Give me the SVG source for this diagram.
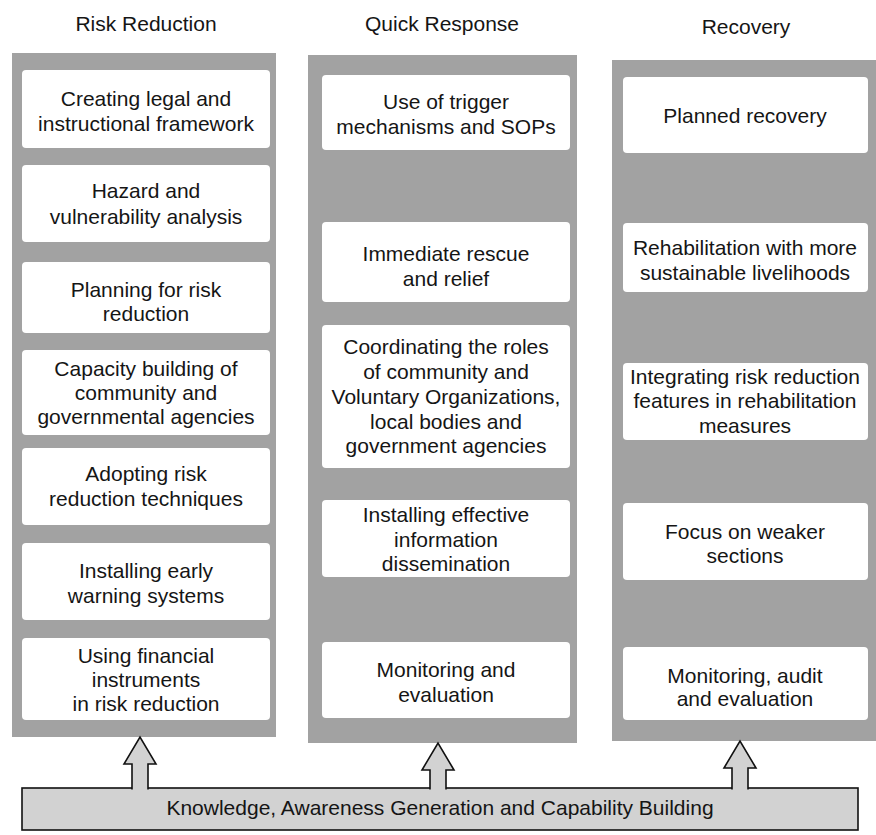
<svg xmlns="http://www.w3.org/2000/svg" width="876" height="835" viewBox="0 0 876 835">
<style>
text{font-family:"Liberation Sans",Arial,sans-serif;font-size:21px;fill:#151515;text-anchor:middle}
.col{fill:#a2a2a2}
.box{fill:#ffffff}
.bar{fill:#d2d2d2;stroke:#111;stroke-width:1.6}
.arr{fill:#d2d2d2;stroke:#111;stroke-width:1.6;stroke-linejoin:miter}
</style>
<rect width="876" height="835" fill="#ffffff"/>
<g id="headers">
<text x="146" y="31">Risk Reduction</text>
<text x="442" y="31">Quick Response</text>
<text x="746" y="34">Recovery</text>
</g>
<g id="column-risk-reduction">
<rect class="col" x="12" y="53" width="264" height="684"/>
</g>
<g id="column-quick-response">
<rect class="col" x="308" y="55" width="269" height="688"/>
</g>
<g id="column-recovery">
<rect class="col" x="612" y="60" width="264" height="681"/>
</g>
<g id="rr1"><rect class="box" x="22" y="70" width="248" height="78" rx="4"/><text x="146" y="106">Creating legal and</text><text x="146" y="131">instructional framework</text></g>
<g id="rr2"><rect class="box" x="22" y="165" width="248" height="77" rx="4"/><text x="146" y="198">Hazard and</text><text x="146" y="224">vulnerability analysis</text></g>
<g id="rr3"><rect class="box" x="22" y="262" width="248" height="71" rx="4"/><text x="146" y="297">Planning for risk</text><text x="146" y="321">reduction</text></g>
<g id="rr4"><rect class="box" x="22" y="350" width="248" height="85" rx="4"/><text x="146" y="376">Capacity building of</text><text x="146" y="400">community and</text><text x="146" y="424">governmental agencies</text></g>
<g id="rr5"><rect class="box" x="22" y="448" width="248" height="77" rx="4"/><text x="146" y="481">Adopting risk</text><text x="146" y="506">reduction techniques</text></g>
<g id="rr6"><rect class="box" x="22" y="543" width="248" height="77" rx="4"/><text x="146" y="578">Installing early</text><text x="146" y="603">warning systems</text></g>
<g id="rr7"><rect class="box" x="22" y="638" width="248" height="82" rx="4"/><text x="146" y="663">Using financial</text><text x="146" y="687">instruments</text><text x="146" y="711">in risk reduction</text></g>
<g id="qr1"><rect class="box" x="322" y="75" width="248" height="75" rx="4"/><text x="446" y="109">Use of trigger</text><text x="446" y="134">mechanisms and SOPs</text></g>
<g id="qr2"><rect class="box" x="322" y="222" width="248" height="80" rx="4"/><text x="446" y="261">Immediate rescue</text><text x="446" y="286">and relief</text></g>
<g id="qr3"><rect class="box" x="322" y="325" width="248" height="143" rx="4"/><text x="446" y="354">Coordinating the roles</text><text x="446" y="379">of community and</text><text x="446" y="404">Voluntary Organizations,</text><text x="446" y="429">local bodies and</text><text x="446" y="453">government agencies</text></g>
<g id="qr4"><rect class="box" x="322" y="500" width="248" height="77" rx="4"/><text x="446" y="522">Installing effective</text><text x="446" y="547">information</text><text x="446" y="571">dissemination</text></g>
<g id="qr5"><rect class="box" x="322" y="642" width="248" height="76" rx="4"/><text x="446" y="677">Monitoring and</text><text x="446" y="702">evaluation</text></g>
<g id="rc1"><rect class="box" x="623" y="77" width="245" height="76" rx="4"/><text x="745" y="123">Planned recovery</text></g>
<g id="rc2"><rect class="box" x="623" y="223" width="245" height="69" rx="4"/><text x="745" y="255">Rehabilitation with more</text><text x="745" y="280">sustainable livelihoods</text></g>
<g id="rc3"><rect class="box" x="623" y="363" width="245" height="77" rx="4"/><text x="745" y="384">Integrating risk reduction</text><text x="745" y="408">features in rehabilitation</text><text x="745" y="433">measures</text></g>
<g id="rc4"><rect class="box" x="623" y="503" width="245" height="77" rx="4"/><text x="745" y="539">Focus on weaker</text><text x="745" y="563">sections</text></g>
<g id="rc5"><rect class="box" x="623" y="647" width="245" height="73" rx="4"/><text x="745" y="683">Monitoring, audit</text><text x="745" y="706">and evaluation</text></g>
<g id="knowledge-bar">
<rect class="bar" x="22" y="788" width="836" height="42"/>
<text x="440" y="815">Knowledge, Awareness Generation and Capability Building</text>
</g>
<g id="connectors">
<path class="arr" d="M132,789.5 V764 H124 L140,737 L156,764 H148 V789.5"/>
<path class="arr" d="M430,789.5 V770 H422 L438,743 L454,770 H446 V789.5"/>
<path class="arr" d="M732,789.5 V768 H724 L740,741 L756,768 H748 V789.5"/>
</g>
</svg>
